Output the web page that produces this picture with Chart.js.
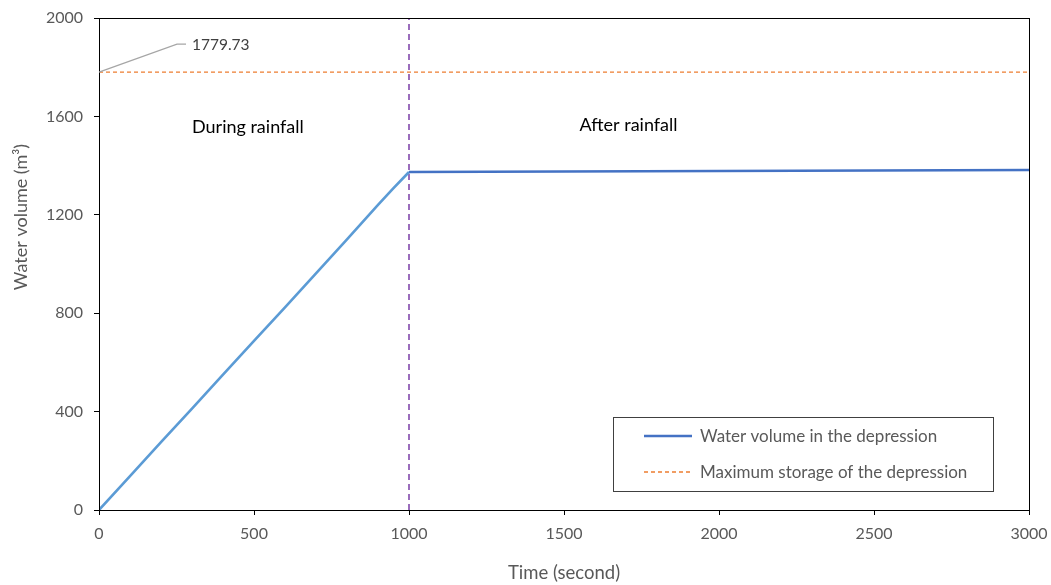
<!DOCTYPE html>
<html>
<head>
<meta charset="utf-8">
<script src="https://cdn.jsdelivr.net/npm/chart.js@4"></script>
<style>
  html, body { margin: 0; padding: 0; background: #fff; }
  #wrap { width: 1051px; height: 585px; }
</style>
</head>
<body>
<div id="wrap"><canvas id="c" width="1051" height="585"></canvas></div>
<script>
// Time (s) and stored water volume (m³) in the depression
const timeSec = [0, 100, 200, 300, 400, 500, 600, 700, 800, 900, 950, 1000, 1500, 2000, 2500, 3000];
const waterVolume = [0, 138, 276, 412, 550, 688, 824, 962, 1100, 1240, 1308, 1374, 1376, 1378, 1380, 1382];

// Maximum storage capacity of the depression (m³)
const maxStorage = 1779.73;
const maxStorageSpan = [0, 3000];

// End of rainfall (s)
const rainEnd = 1000;

const xTicks = [0, 500, 1000, 1500, 2000, 2500, 3000];
const yTicks = [0, 400, 800, 1200, 1600, 2000];

const seriesNames = ['Water volume in the depression', 'Maximum storage of the depression'];
const phaseLabels = [
  { text: 'During rainfall', x: 300, y: 1555 },
  { text: 'After rainfall', x: 1550, y: 1565 }
];
const yTitle = 'Water volume (m³)';

const FONT = 'Lato, "Open Sans", sans-serif';
const GREY = '#595959';
const LIGHT_BLUE = '#5B9BD5';
const DARK_BLUE = '#4472C4';
const ORANGE = '#ED7D31';
const PURPLE = '#7030A0';

const volumePoints = timeSec.map((t, i) => ({ x: t, y: waterVolume[i] }));
const maxPoints = maxStorageSpan.map(t => ({ x: t, y: maxStorage }));
const rainEndPoints = [{ x: rainEnd, y: yTicks[0] }, { x: rainEnd, y: yTicks[yTicks.length - 1] }];

// Frame, axis title, phase labels, value callout and legend box
const overlay = {
  id: 'overlay',
  afterDatasetsDraw(chart) {
    const { ctx, chartArea: a, scales: { x, y } } = chart;
    ctx.save();

    // axis frame
    ctx.strokeStyle = '#000';
    ctx.lineWidth = 1;
    ctx.strokeRect(Math.round(a.left) + 0.5, Math.round(a.top) + 0.5,
                   Math.round(a.right - a.left), Math.round(a.bottom - a.top));

    // vertical axis title
    ctx.save();
    ctx.translate(21, 217);
    ctx.rotate(-Math.PI / 2);
    ctx.fillStyle = GREY;
    ctx.font = '18px ' + FONT;
    ctx.textAlign = 'center';
    ctx.textBaseline = 'middle';
    ctx.fillText(yTitle, 0, 0);
    ctx.restore();

    // phase labels
    ctx.fillStyle = '#000';
    ctx.font = '18px ' + FONT;
    ctx.textAlign = 'left';
    ctx.textBaseline = 'middle';
    phaseLabels.forEach(p => ctx.fillText(p.text, x.getPixelForValue(p.x), y.getPixelForValue(p.y)));

    // callout for maximum storage
    const px = x.getPixelForValue(maxStorageSpan[0]);
    const py = y.getPixelForValue(maxStorage);
    ctx.strokeStyle = '#A6A6A6';
    ctx.lineWidth = 1.2;
    ctx.beginPath();
    ctx.moveTo(px, py);
    ctx.lineTo(px + 78, py - 28);
    ctx.lineTo(px + 87, py - 28);
    ctx.stroke();
    ctx.fillStyle = '#404040';
    ctx.font = '15.5px ' + FONT;
    ctx.fillText(maxStorage.toFixed(2), px + 93, py - 27);

    // legend box
    const bx = 613, by = 417, bw = 380, bh = 74;
    ctx.fillStyle = '#fff';
    ctx.fillRect(bx, by, bw, bh);
    ctx.strokeStyle = '#404040';
    ctx.lineWidth = 1;
    ctx.strokeRect(bx + 0.5, by + 0.5, bw, bh);
    const rows = [
      { name: seriesNames[0], color: DARK_BLUE, dash: [], width: 2.5, yy: by + 19 },
      { name: seriesNames[1], color: ORANGE, dash: [4, 3], width: 1.3, yy: by + 55 }
    ];
    rows.forEach(r => {
      ctx.strokeStyle = r.color;
      ctx.lineWidth = r.width;
      ctx.setLineDash(r.dash);
      ctx.beginPath();
      ctx.moveTo(bx + 31, r.yy);
      ctx.lineTo(bx + 79, r.yy);
      ctx.stroke();
      ctx.setLineDash([]);
      ctx.fillStyle = GREY;
      ctx.font = '17px ' + FONT;
      ctx.fillText(r.name, bx + 87, r.yy + 1);
    });
    ctx.restore();
  }
};

new Chart(document.getElementById('c'), {
  type: 'scatter',
  data: {
    datasets: [
      {
        label: seriesNames[1],
        data: maxPoints,
        showLine: true,
        borderColor: ORANGE,
        borderWidth: 1.3,
        borderDash: [4, 3],
        pointRadius: 0,
        order: 3
      },
      {
        label: 'Rainfall end',
        data: rainEndPoints,
        showLine: true,
        borderColor: PURPLE,
        borderWidth: 1.4,
        borderDash: [6, 4],
        pointRadius: 0,
        order: 2
      },
      {
        label: seriesNames[0],
        data: volumePoints,
        showLine: true,
        borderColor: DARK_BLUE,
        borderWidth: 2.6,
        pointRadius: 0,
        tension: 0,
        segment: {
          borderColor: c => (c.p0.parsed.x < rainEnd ? LIGHT_BLUE : DARK_BLUE)
        },
        order: 1
      }
    ]
  },
  options: {
    responsive: false,
    animation: false,
    devicePixelRatio: 1,
    layout: { padding: { top: 18, right: 22, left: 0, bottom: 0 } },
    plugins: {
      legend: { display: false },
      tooltip: { enabled: false }
    },
    scales: {
      x: {
        type: 'linear',
        min: xTicks[0],
        max: xTicks[xTicks.length - 1],
        afterBuildTicks: s => { s.ticks = xTicks.map(v => ({ value: v })); },
        afterFit: s => { s.height = 75; s.paddingLeft = 0; s.paddingRight = 0; },
        grid: { display: true, drawOnChartArea: false, color: '#000', tickLength: 5, tickColor: '#000' },
        border: { display: true, color: '#000', width: 1 },
        ticks: { color: GREY, font: { family: FONT, size: 16 }, padding: 9, maxRotation: 0, callback: v => String(v) },
        title: { display: true, text: 'Time (second)', color: GREY, font: { family: FONT, size: 18.5 }, padding: { top: 0, bottom: 1 } }
      },
      y: {
        type: 'linear',
        min: yTicks[0],
        max: yTicks[yTicks.length - 1],
        afterBuildTicks: s => { s.ticks = yTicks.map(v => ({ value: v })); },
        afterFit: s => { s.width = 99; s.paddingTop = 0; s.paddingBottom = 0; },
        grid: { display: true, drawOnChartArea: false, color: '#000', tickLength: 5, tickColor: '#000' },
        border: { display: true, color: '#000', width: 1 },
        ticks: { color: GREY, font: { family: FONT, size: 16 }, padding: 11, callback: v => String(v) }
      }
    }
  },
  plugins: [overlay]
});
</script>
</body>
</html>
